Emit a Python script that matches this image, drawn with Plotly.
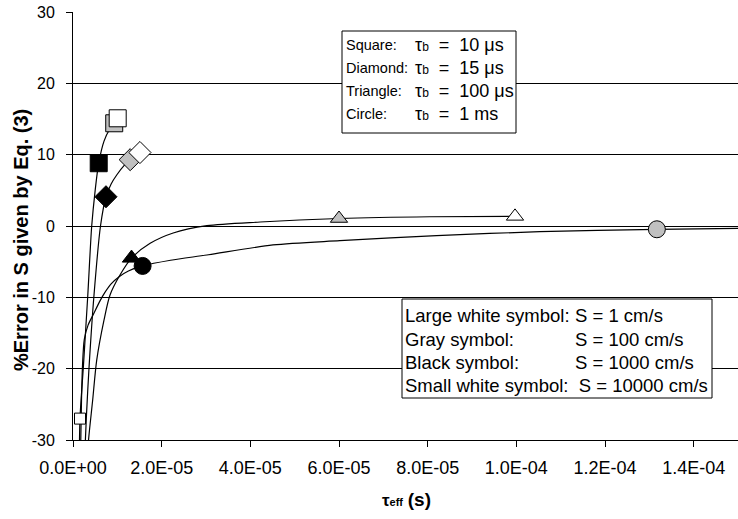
import plotly.graph_objects as go

# ---------------- data ----------------
# marker points, order of S: 1, 100, 1000, 10000 cm/s  (None = off chart)
S_values = [1, 100, 1000, 10000]
tau_sq = [1.008e-5, 9.3e-6, 5.8e-6, 1.58e-6]
err_sq = [15.1, 14.4, 8.8, -27.0]
tau_di = [1.51e-5, 1.29e-5, 7.44e-6, None]
err_di = [10.3, 9.3, 4.1, None]
tau_tr = [9.97e-5, 6.0e-5, 1.32e-5, None]
err_tr = [1.35, 1.05, -4.5, None]
tau_ci = [None, 1.317e-4, 1.57e-5, None]
err_ci = [None, -0.46, -5.6, None]

# traced smooth curves
curve_sq_x = [1.40e-6, 1.58e-6, 2.32e-6, 3.34e-6, 4.22e-6, 5.0e-6, 5.8e-6, 7.0e-6, 8.3e-6, 9.3e-6, 1.008e-5]
curve_sq_y = [-34.2, -27.0, -19.9, -9.67, 0.0, 5.0, 8.8, 11.9, 13.6, 14.4, 15.1]
curve_di_x = [2.55e-6, 3.0e-6, 3.61e-6, 4.74e-6, 6.2e-6, 7.44e-6, 8.6e-6, 9.86e-6, 1.17e-5, 1.29e-5, 1.51e-5]
curve_di_y = [-33.5, -27.0, -19.9, -9.67, 0.0, 4.1, 5.9, 7.15, 8.6, 9.3, 10.3]
curve_tr_x = [3.16e-6, 3.45e-6, 4.44e-6, 5.35e-6, 6.99e-6, 8.35e-6, 1.06e-5, 1.32e-5, 1.74e-5,
              2.26e-5, 3.02e-5, 4.22e-5, 6.0e-5, 8.05e-5, 9.97e-5]
curve_tr_y = [-34.2, -30.4, -24.4, -18.8, -13.2, -9.67, -6.87, -4.5, -2.43,
              -0.98, 0.04, 0.56, 1.05, 1.3, 1.35]
curve_ci_x = [1.65e-6, 1.74e-6, 1.92e-6, 2.15e-6, 2.55e-6, 3.4e-6, 4.58e-6, 6.09e-6, 7.2e-6, 8.6e-6,
              1.04e-5, 1.25e-5, 1.57e-5, 2.2e-5, 3.02e-5, 4.51e-5, 6.02e-5, 8.2e-5, 1.053e-4,
              1.317e-4, 1.516e-4]
curve_ci_y = [-34.2, -30.7, -24.4, -19.5, -15.9, -13.9, -12.4, -10.5, -9.3, -8.1,
              -7.1, -6.3, -5.6, -4.8, -4.07, -2.66, -2.06, -1.35, -0.8,
              -0.46, -0.31]

x_ticks = [0, 2e-5, 4e-5, 6e-5, 8e-5, 1e-4, 1.2e-4, 1.4e-4]
x_tick_text = ["0.0E+00", "2.0E-05", "4.0E-05", "6.0E-05", "8.0E-05", "1.0E-04", "1.2E-04", "1.4E-04"]
y_ticks = [-30, -20, -10, 0, 10, 20, 30]
y_tick_text = ["-30", "-20", "-10", "0", "10", "20", "30"]

box1_left = ["Square:", "Diamond:", "Triangle:", "Circle:"]
box1_right = ["10 \u03bcs", "15 \u03bcs", "100 \u03bcs", "1 ms"]
box2_left = ["Large white symbol:", "Gray symbol:", "Black symbol:", "Small white symbol:"]
box2_right = ["S = 1 cm/s", "S = 100 cm/s", "S = 1000 cm/s", "S = 10000 cm/s"]

FONT = "Liberation Sans, Arial, sans-serif"
GRAY = "#C0C0C0"

fig = go.Figure()

for cx, cy in [(curve_sq_x, curve_sq_y), (curve_di_x, curve_di_y),
               (curve_tr_x, curve_tr_y), (curve_ci_x, curve_ci_y)]:
    fig.add_trace(go.Scatter(x=cx, y=cy, mode="lines",
                             line=dict(color="black", width=1.2, shape="spline", smoothing=0.8),
                             hoverinfo="skip", showlegend=False))

symbols = ["square", "diamond", "triangle-up", "circle"]
sizes_big = [17, 17, 15, 17]
series = [(tau_sq, err_sq), (tau_di, err_di), (tau_tr, err_tr), (tau_ci, err_ci)]

def add_group(idx, fill, sizes):
    xs, ys, syms, szs = [], [], [], []
    for k, (tx, ty) in enumerate(series):
        if tx[idx] is None:
            continue
        xs.append(tx[idx]); ys.append(ty[idx]); syms.append(symbols[k]); szs.append(sizes[k])
    fig.add_trace(go.Scatter(x=xs, y=ys, mode="markers", showlegend=False, hoverinfo="skip",
                             marker=dict(symbol=syms, size=szs, color=fill, opacity=1,
                                         line=dict(color="black", width=1))))

add_group(1, GRAY, sizes_big)              # S = 100
add_group(0, "white", sizes_big)           # S = 1
add_group(2, "black", [17, 17, 16, 17])    # S = 1000
add_group(3, "white", [11, 11, 11, 11])    # S = 10000

# ---- geometry helpers (pixel -> paper) ----
L, R, T, B = 73, 738, 12, 440
def px(xp):
    return (xp - L) / (R - L)
def py(yp):
    return (B - yp) / (B - T)

shapes = [
    dict(type="rect", xref="paper", yref="paper", x0=px(342), x1=px(516), y0=py(133), y1=py(31),
         line=dict(color="black", width=1), fillcolor="white", layer="above"),
    dict(type="rect", xref="paper", yref="paper", x0=px(402), x1=px(712), y0=py(398), y1=py(299),
         line=dict(color="black", width=1), fillcolor="white", layer="above"),
]

annotations = []
b1_y = [45, 68, 91, 114]
for i in range(4):
    annotations.append(dict(xref="paper", yref="paper", x=px(344), y=py(b1_y[i]), xanchor="left",
                            yanchor="middle", showarrow=False, text=box1_left[i],
                            font=dict(family=FONT, size=14.5, color="black")))
    annotations.append(dict(xref="paper", yref="paper", x=px(413), y=py(b1_y[i]), xanchor="left",
                            yanchor="middle", showarrow=False,
                            text="\u03c4<span style='font-size:12px'>b</span>\u00a0 =\u00a0 " + box1_right[i],
                            font=dict(family=FONT, size=18, color="black")))
b2_y = [315, 339, 362, 385]
for i in range(3):
    annotations.append(dict(xref="paper", yref="paper", x=px(403), y=py(b2_y[i]), xanchor="left",
                            yanchor="middle", showarrow=False, text=box2_left[i],
                            font=dict(family=FONT, size=18.5, color="black")))
    annotations.append(dict(xref="paper", yref="paper", x=px(573), y=py(b2_y[i]), xanchor="left",
                            yanchor="middle", showarrow=False, text=box2_right[i],
                            font=dict(family=FONT, size=18.5, color="black")))
annotations.append(dict(xref="paper", yref="paper", x=px(403), y=py(b2_y[3]), xanchor="left",
                        yanchor="middle", showarrow=False,
                        text=box2_left[3] + "\u00a0\u00a0" + box2_right[3],
                        font=dict(family=FONT, size=18.5, color="black")))

# axis titles
annotations.append(dict(xref="paper", yref="paper", x=px(21), y=py(240), xanchor="center",
                        yanchor="middle", showarrow=False, textangle=-90,
                        text="<b>%Error in S given by Eq. (3)</b>",
                        font=dict(family=FONT, size=20, color="black")))
annotations.append(dict(xref="paper", yref="paper", x=px(406), y=py(500), xanchor="center",
                        yanchor="middle", showarrow=False,
                        text="<b>\u03c4<span style='font-size:11px'>eff</span> "
                             "<span style='font-size:19px'>(s)</span></b>",
                        font=dict(family=FONT, size=17, color="black")))

fig.update_layout(
    width=738, height=519,
    margin=dict(l=L, r=738 - R, t=T, b=519 - B, autoexpand=False),
    paper_bgcolor="white", plot_bgcolor="white",
    font=dict(family=FONT, size=16, color="black"),
    shapes=shapes, annotations=annotations,
    xaxis=dict(range=[0, 1.5e-4], tickvals=x_ticks, ticktext=x_tick_text, automargin=False,
               showgrid=False, zeroline=False, showline=True, linecolor="black", linewidth=1,
               ticks="outside", ticklen=6, tickcolor="black", ticklabelstandoff=5,
               tickfont=dict(family=FONT, size=18, color="black")),
    yaxis=dict(range=[-30, 30], tickvals=y_ticks, ticktext=y_tick_text, automargin=False,
               showgrid=True, gridcolor="black", gridwidth=1, zeroline=False,
               showline=True, linecolor="black", linewidth=1,
               ticks="outside", ticklen=6, tickcolor="black", ticklabelstandoff=8,
               tickfont=dict(family=FONT, size=16, color="black")),
)

fig.write_html("out.html", config={"displayModeBar": False},
               post_script="document.body.style.margin='0';")
